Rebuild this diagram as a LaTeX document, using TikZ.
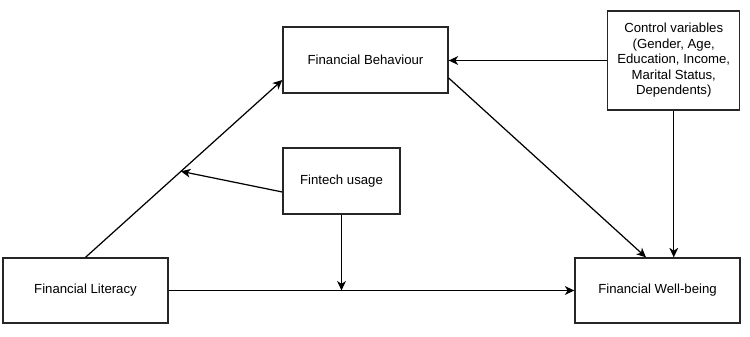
\documentclass[tikz,border=0pt]{standalone}
\usepackage{fontspec}
\setmainfont{Liberation Sans}
\usetikzlibrary{arrows.meta}

\begin{document}
\begin{tikzpicture}[
    var/.style={draw=black!85, line width=0.75pt, align=center,
      font=\fontsize{7.5}{8.8}\selectfont, inner sep=2pt},
    link/.style={line width=0.7pt, -{Stealth[length=5.4pt,width=5pt,inset=1.6pt]}}]

  \useasboundingbox (0,0) rectangle (15,6.72);

  % ========== Variables ==========
  \node[var, minimum width=3.3cm, minimum height=1.3cm] (lit) at (1.71,0.91) {Financial Literacy};
  \node[var, minimum width=3.3cm, minimum height=1.32cm] (beh) at (7.31,5.52) {Financial Behaviour};
  \node[var, minimum width=2.34cm, minimum height=1.32cm] (fin) at (6.83,3.10) {Fintech usage};
  \node[var, minimum width=3.3cm, minimum height=1.3cm] (wb) at (13.15,0.91) {Financial Well-being};
  \node[var, minimum width=2.64cm, minimum height=1.98cm] (ctrl) at (13.475,5.51)
    {Control variables\\(Gender, Age,\\Education, Income,\\Marital Status,\\Dependents)};

  % ========== Paths ==========
  \draw[link] (lit.north) -- coordinate[pos=0.485] (onlink) ([yshift=-0.4cm]beh.west);
  \draw[link] (lit.east) -- (wb.west);
  \draw[link] ([yshift=-0.36cm]beh.east) -- ([xshift=-0.23cm]wb.north);
  \draw[link] (ctrl.west) -- (ctrl.west -| beh.east);
  \draw[link] (ctrl.south) -- (ctrl.south |- wb.north);

  % moderation by fintech usage
  \draw[link] ([yshift=-0.22cm]fin.west) -- (onlink);
  \draw[link] (fin.south) -- (fin.south |- lit.east);

\end{tikzpicture}
\end{document}
